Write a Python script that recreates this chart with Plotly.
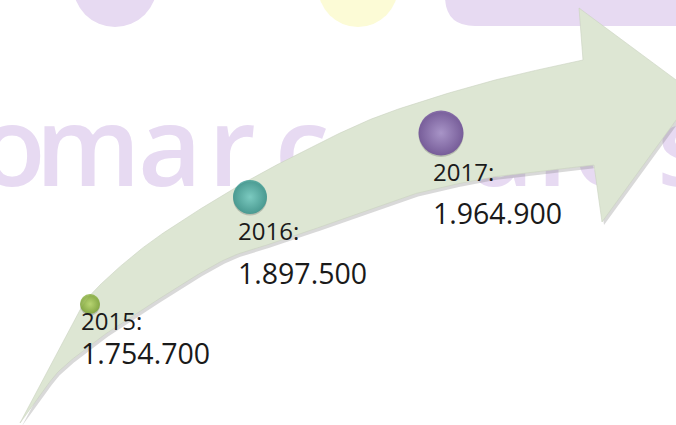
import numpy as np
import plotly.graph_objects as go

# ---- data ----
years = ["2015", "2016", "2017"]
values = [1754700, 1897500, 1964900]
value_labels = ["1.754.700", "1.897.500", "1.964.900"]

# ---- styling / layout constants ----
W, H = 676, 425
bubble_edges = ["#6f9e18", "#1b8a84", "#5c3490"]      # body / rim colour
bubble_lights = ["#b8de58", "#62d0c8", "#a283d2"]     # highlight (gradient centre)
bubble_x = [90, 250, 441]
bubble_y = [304, 197, 133]
year_label_y = [320, 230, 171]
value_label_y = [353, 273, 213]
label_x = [79, 236, 431]
LAV = "#e7daf2"
ARROW = "#dde6d3"
WM_LETTERS = list("omarcasales")
WM_X = [12, 88, 170, 232, 302, 372, 438, 502, 552, 605, 684]


def catmull(points, n=24):
    pts = np.array(points, float)
    P = np.vstack([pts[0] * 2 - pts[1], pts, pts[-1] * 2 - pts[-2]])
    out = []
    for i in range(1, len(P) - 2):
        p0, p1, p2, p3 = P[i - 1], P[i], P[i + 1], P[i + 2]
        for t in np.linspace(0, 1, n, endpoint=False):
            t2, t3 = t * t, t * t * t
            out.append(0.5 * ((2 * p1) + (-p0 + p2) * t
                              + (2 * p0 - 5 * p1 + 4 * p2 - p3) * t2
                              + (-p0 + 3 * p1 - 3 * p2 + p3) * t3))
    out.append(pts[-1])
    return np.array(out)


upper = catmull([(20, 423), (50, 366), (80, 310), (100, 285), (140, 250), (180, 222),
                 (240, 185), (300, 153), (369, 120), (436, 97), (503, 78), (583, 60)])
lower = catmull([(594, 165), (500, 176), (430, 190), (400, 199), (300, 234), (273, 243),
                 (220, 262), (137, 313), (100, 338), (60, 370), (40, 396), (20, 423)])
head = np.array([(579, 8), (695, 94), (602, 222)], float)
poly = np.vstack([upper, head, lower])

# bubble sizes scaled from values
vmin, vmax = min(values), max(values)
sizes = [20 + 25 * ((v - vmin) / (vmax - vmin)) ** 1.5 for v in values]

fig = go.Figure()

# watermark letters (behind arrow)
fig.add_trace(go.Scatter(x=WM_X, y=[158] * len(WM_X), mode="text", text=WM_LETTERS,
                         textposition="middle center",
                         textfont=dict(family="Open Sans", size=110, color=LAV, weight=600),
                         hoverinfo="skip"))
# arrow shadow
fig.add_trace(go.Scatter(x=poly[:, 0] + 2, y=poly[:, 1] + 3, mode="lines", fill="toself",
                         fillcolor="rgba(120,120,120,0.28)", line=dict(width=0),
                         hoverinfo="skip"))
# arrow
fig.add_trace(go.Scatter(x=poly[:, 0], y=poly[:, 1], mode="lines", fill="toself",
                         fillcolor=ARROW, line=dict(width=0.6, color="#c9d2bf"),
                         hoverinfo="skip"))
# bubble shadows
fig.add_trace(go.Scatter(x=bubble_x, y=[y + 1.5 for y in bubble_y], mode="markers",
                         marker=dict(size=sizes, color="rgba(60,60,60,0.35)",
                                     line=dict(width=0)),
                         hoverinfo="skip"))
# bubbles
fig.add_trace(go.Scatter(x=bubble_x, y=bubble_y, mode="markers",
                         marker=dict(size=sizes, color=bubble_edges,
                                     gradient=dict(type="radial", color=bubble_lights),
                                     line=dict(width=0)),
                         text=years, hoverinfo="text"))

annotations = []
for i in range(len(years)):
    annotations.append(dict(x=label_x[i], y=year_label_y[i], text=years[i] + ":",
                            showarrow=False, xanchor="left", yanchor="middle",
                            font=dict(family="Open Sans", size=24, color="#1a1a1a")))
    annotations.append(dict(x=label_x[i], y=value_label_y[i], text=value_labels[i],
                            showarrow=False, xanchor="left", yanchor="middle",
                            font=dict(family="Open Sans", size=28.5, color="#1a1a1a")))

shapes = [
    dict(type="circle", x0=73, x1=157, y0=-57, y1=27, fillcolor=LAV, line_width=0, layer="below"),
    dict(type="circle", x0=318, x1=398, y0=-53, y1=27, fillcolor="#fcfbd6", line_width=0, layer="below"),
    dict(type="path", path="M 445,-10 L 445,-4 Q 445,26 475,26 L 700,26 L 700,-10 Z",
         fillcolor=LAV, line_width=0, layer="below"),
]

fig.update_layout(
    width=W, height=H, margin=dict(l=0, r=0, t=0, b=0),
    paper_bgcolor="white", plot_bgcolor="white", showlegend=False,
    xaxis=dict(range=[0, W], visible=False, fixedrange=True),
    yaxis=dict(range=[H, 0], visible=False, fixedrange=True),
    annotations=annotations, shapes=shapes,
)

fig.write_html("out.html", config={"displayModeBar": False},
               post_script="document.body.style.margin='0';document.body.style.overflow='hidden';")
